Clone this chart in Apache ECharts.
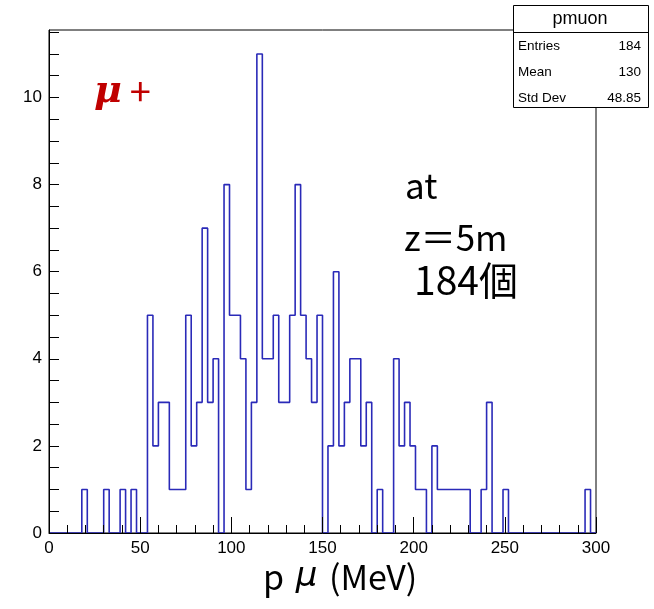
<!DOCTYPE html>
<html>
<head>
<meta charset="utf-8">
<script src="https://cdn.jsdelivr.net/npm/echarts@6/dist/echarts.min.js"></script>
<style>
  html, body { margin: 0; padding: 0; background: #fff; }
  #main { width: 654px; height: 609px; }
</style>
</head>
<body>
<div id="main"></div>
<script>
// histogram pmuon: 100 bins, 0..300 MeV
var binWidth = 3;
var xMin = 0, xMax = 300;
var counts = [
    0, 0, 0, 0, 0, 0, 1, 0, 0, 0,
    1, 0, 0, 1, 0, 1, 0, 0, 5, 2,
    3, 3, 1, 1, 1, 5, 2, 3, 7, 3,
    4, 0, 8, 5, 5, 4, 1, 3, 11, 4,
    4, 5, 3, 3, 5, 8, 5, 4, 3, 5,
    0, 2, 6, 2, 3, 4, 4, 2, 3, 0,
    1, 0, 0, 4, 2, 3, 2, 1, 1, 0,
    2, 1, 1, 1, 1, 1, 1, 0, 0, 1,
    3, 0, 0, 1, 0, 0, 0, 0, 0, 0,
    0, 0, 0, 0, 0, 0, 0, 0, 1, 0
];
var statNames = ['Entries', 'Mean', 'Std Dev'];
var statValues = ['184', '130', '48.85'];
var histName = 'pmuon';

// bin edges -> step line points
var points = counts.map(function (c, i) { return [xMin + i * binWidth, c]; });
points.push([xMax, counts[counts.length - 1]]);

var myChart = echarts.init(document.getElementById('main'));
var yMax = 11 * 1.05;

var statGraphics = [
    { type: 'rect', z: 100, shape: { x: 513.5, y: 5.5, width: 135, height: 102 },
      style: { fill: '#fff', stroke: '#000', lineWidth: 1 } },
    { type: 'line', z: 101, shape: { x1: 513.5, y1: 32.5, x2: 648.5, y2: 32.5 },
      style: { stroke: '#000', lineWidth: 1 } },
    { type: 'text', z: 101, style: { text: histName, x: 580, y: 19, align: 'center', verticalAlign: 'middle',
      font: '18px "Liberation Sans", Arial, sans-serif', fill: '#000' } }
];
statNames.forEach(function (n, i) {
    statGraphics.push({ type: 'text', z: 101, style: { text: n, x: 518, y: 46 + i * 26, align: 'left',
        verticalAlign: 'middle', font: '13.5px "Liberation Sans", Arial, sans-serif', fill: '#000' } });
    statGraphics.push({ type: 'text', z: 101, style: { text: statValues[i], x: 641, y: 46 + i * 26, align: 'right',
        verticalAlign: 'middle', font: '13.5px "Liberation Sans", Arial, sans-serif', fill: '#000' } });
});

var option = {
    animation: false,
    grid: {
        left: 49, right: 58, top: 30, bottom: 76,
        show: true, borderColor: '#000', borderWidth: 1, backgroundColor: 'transparent'
    },
    xAxis: {
        type: 'value',
        min: xMin, max: xMax, interval: 50,
        z: 5,
        axisLine: { onZero: false, lineStyle: { color: '#000', width: 1 } },
        axisTick: { inside: true, length: 16, lineStyle: { color: '#000' } },
        minorTick: { show: true, splitNumber: 5, length: 8, lineStyle: { color: '#000' } },
        splitLine: { show: false },
        axisLabel: { color: '#000', fontSize: 17, margin: 7, fontFamily: '"Liberation Sans", Arial, sans-serif' }
    },
    yAxis: {
        type: 'value',
        min: 0, max: yMax, interval: 0.5,
        z: 5,
        axisLine: { show: true, lineStyle: { color: '#000', width: 1 } },
        axisTick: { inside: true, length: 10, lineStyle: { color: '#000' } },
        splitLine: { show: false },
        axisLabel: {
            color: '#000', fontSize: 17, margin: 7, fontFamily: '"Liberation Sans", Arial, sans-serif',
            showMaxLabel: false,
            formatter: function (v) { return (v % 2 === 0) ? String(v) : ''; }
        }
    },
    series: [{
        type: 'line',
        step: 'end',
        z: 1,
        symbol: 'none',
        data: points,
        lineStyle: { color: '#2a2ab8', width: 1.6 }
    }],
    graphic: statGraphics.concat([
        { type: 'text', z: 100, style: {
            text: '{mu|μ}{p|+}', x: 94, y: 92, verticalAlign: 'middle',
            rich: {
                mu: { fontSize: 38, fontWeight: 'bold', fontStyle: 'italic', fill: '#c00000', fontFamily: '"DejaVu Serif", serif' },
                p: { fontSize: 38, fill: '#c00000', fontFamily: '"Noto Sans CJK JP", sans-serif', padding: [0, 0, 0, 8] }
            } } },
        { type: 'text', z: 100, style: { text: 'at', x: 405, y: 186, verticalAlign: 'middle',
            font: '35px "Noto Sans CJK JP", sans-serif', fill: '#000' } },
        { type: 'text', z: 100, style: { text: 'z＝5m', x: 404, y: 238, verticalAlign: 'middle',
            font: '35px "Noto Sans CJK JP", sans-serif', fill: '#000' } },
        { type: 'text', z: 100, style: { text: '184個', x: 414, y: 280, verticalAlign: 'middle',
            font: '39px "Noto Sans CJK JP", sans-serif', fill: '#000' } },
        { type: 'text', z: 100, style: {
            text: '{a|p }{m|μ}{a| (MeV)}', x: 263, y: 577, verticalAlign: 'middle',
            rich: {
                a: { fontSize: 34, fill: '#000', fontFamily: '"Noto Sans CJK JP", sans-serif' },
                m: { fontSize: 34, fontStyle: 'italic', fill: '#000', fontFamily: '"DejaVu Sans", sans-serif', padding: [0, 4, 0, 4] }
            } } }
    ])
};
myChart.setOption(option);
</script>
</body>
</html>
